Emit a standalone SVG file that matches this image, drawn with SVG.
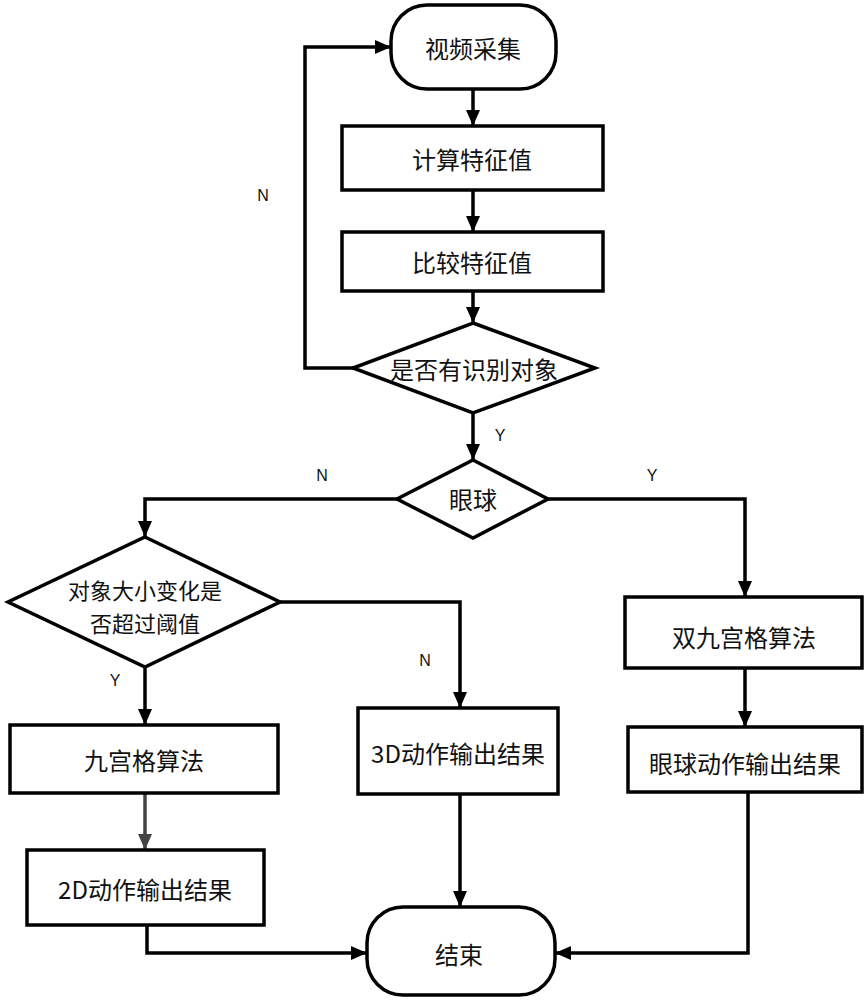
<svg xmlns="http://www.w3.org/2000/svg" width="867" height="1000" viewBox="0 0 867 1000">
<style>
.n{fill:#fff;stroke:#000;stroke-width:3.5}
.t{font-family:"Noto Sans CJK SC","Liberation Sans",sans-serif;font-size:24px;fill:#111;text-anchor:middle;dominant-baseline:central}
.s{font-size:22px}
.l{font-family:"Liberation Sans",sans-serif;font-size:16px;fill:#111;text-anchor:middle;dominant-baseline:central}
.c{fill:none;stroke:#000;stroke-width:3.5}
</style>
<defs>
<marker id="a" markerWidth="16" markerHeight="14" viewBox="0 0 16 14" refX="16" refY="7" orient="auto" markerUnits="userSpaceOnUse"><path d="M0,0L16,7L0,14z" fill="#000"/></marker>
<marker id="g" markerWidth="16" markerHeight="14" viewBox="0 0 16 14" refX="16" refY="7" orient="auto" markerUnits="userSpaceOnUse"><path d="M0,0L16,7L0,14z" fill="#444"/></marker>
</defs>
<g id="connectors">
<path class="c" d="M473,89V126" marker-end="url(#a)"/>
<path class="c" d="M473,190V232" marker-end="url(#a)"/>
<path class="c" d="M473,291V323" marker-end="url(#a)"/>
<path class="c" d="M353,368H305V47H391" marker-end="url(#a)"/>
<path class="c" d="M473,413V460" marker-end="url(#a)"/>
<path class="c" d="M397,499H145V537" marker-end="url(#a)"/>
<path class="c" d="M548,499H745V597" marker-end="url(#a)"/>
<path class="c" d="M280,602H460V708" marker-end="url(#a)"/>
<path class="c" d="M145,667V725" marker-end="url(#a)"/>
<path d="M145,793V850" fill="none" stroke="#444" stroke-width="3.5" marker-end="url(#g)"/>
<path class="c" d="M745,668V727" marker-end="url(#a)"/>
<path class="c" d="M460,794V907" marker-end="url(#a)"/>
<path class="c" d="M147,925V953H367" marker-end="url(#a)"/>
<path class="c" d="M748,792V953H555" marker-end="url(#a)"/>
<text class="l" x="263" y="195">N</text>
<text class="l" x="500" y="435">Y</text>
<text class="l" x="322" y="475">N</text>
<text class="l" x="652" y="475">Y</text>
<text class="l" x="425" y="660">N</text>
<text class="l" x="115" y="680">Y</text>
</g>
<g id="start"><rect class="n" x="391" y="5" width="165" height="84" rx="36"/><text class="t" x="473" y="47">视频采集</text></g>
<g id="calc"><rect class="n" x="342" y="126" width="261" height="64"/><text class="t" x="472" y="158">计算特征值</text></g>
<g id="compare"><rect class="n" x="342" y="232" width="261" height="59"/><text class="t" x="472" y="261">比较特征值</text></g>
<g id="detect"><path class="n" d="M473,323L595,368L473,413L353,368Z"/><text class="t" x="474" y="368">是否有识别对象</text></g>
<g id="eye"><path class="n" d="M473,460L548,499L473,538L397,499Z"/><text class="t" x="473" y="498">眼球</text></g>
<g id="size"><path class="n" d="M145,537L280,602L145,667L8,602Z"/><text class="t s" x="145" y="589">对象大小变化是</text><text class="t s" x="145" y="622">否超过阈值</text></g>
<g id="grid9"><rect class="n" x="10" y="725" width="268" height="68"/><text class="t" x="144" y="759">九宫格算法</text></g>
<g id="out2d"><rect class="n" x="27" y="850" width="237" height="75"/><text class="t" x="145" y="888">2D动作输出结果</text></g>
<g id="out3d"><rect class="n" x="358" y="708" width="200" height="86"/><text class="t" x="458" y="752">3D动作输出结果</text></g>
<g id="dgrid"><rect class="n" x="625" y="597" width="237" height="71"/><text class="t" x="744" y="636">双九宫格算法</text></g>
<g id="outeye"><rect class="n" x="628" y="727" width="234" height="65"/><text class="t" x="745" y="762">眼球动作输出结果</text></g>
<g id="end"><rect class="n" x="367" y="907" width="188" height="88" rx="36"/><text class="t" x="459" y="953">结束</text></g>
</svg>
